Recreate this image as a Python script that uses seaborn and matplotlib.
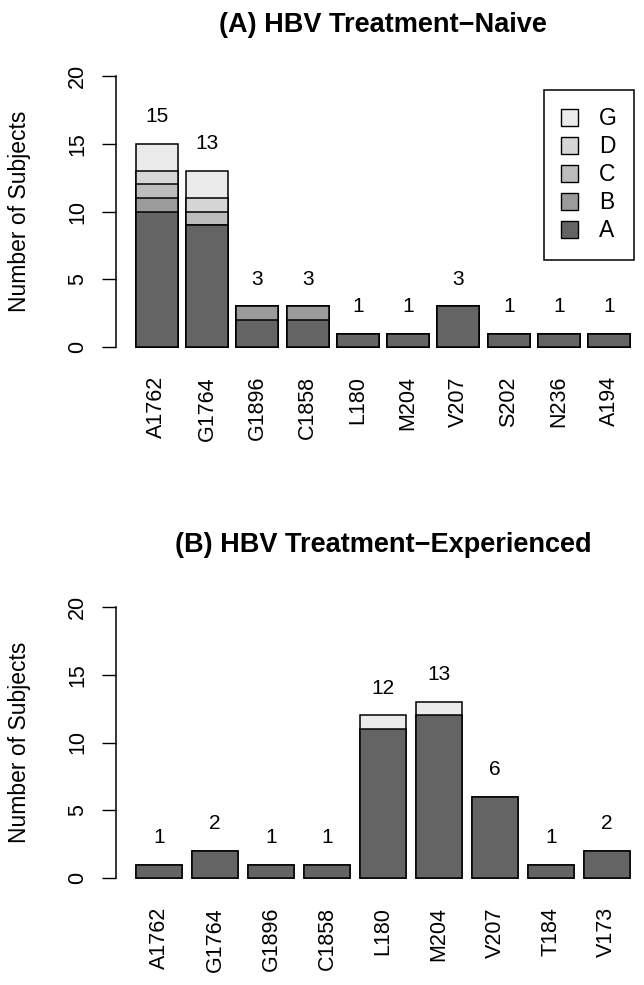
import numpy as np
import pandas as pd
import matplotlib
matplotlib.use('Agg')
import matplotlib.pyplot as plt
from matplotlib.patches import Patch
import seaborn as sns

# 데이터 (A) Treatment-Naive
labels_a = ['A1762', 'G1764', 'G1896', 'C1858', 'L180', 'M204', 'V207', 'S202', 'N236', 'A194']
naive_A = [10, 9, 2, 2, 1, 1, 3, 1, 1, 1]
naive_B = [1, 0, 1, 1, 0, 0, 0, 0, 0, 0]
naive_C = [1, 1, 0, 0, 0, 0, 0, 0, 0, 0]
naive_D = [1, 1, 0, 0, 0, 0, 0, 0, 0, 0]
naive_G = [2, 2, 0, 0, 0, 0, 0, 0, 0, 0]

# 데이터 (B) Treatment-Experienced
labels_b = ['A1762', 'G1764', 'G1896', 'C1858', 'L180', 'M204', 'V207', 'T184', 'V173']
exp_A = [1, 2, 1, 1, 11, 12, 6, 1, 2]
exp_G = [0, 0, 0, 0, 1, 1, 0, 0, 0]

genotypes = ['A', 'B', 'C', 'D', 'G']
colors = {'A': '#646464', 'B': '#9B9B9B', 'C': '#BDBDBD', 'D': '#D6D6D6', 'G': '#EBEBEB'}

sns.set_style('white')
plt.rcParams['font.family'] = ['Liberation Sans', 'DejaVu Sans']
# 글자색은 검정
for k in ['text.color', 'axes.labelcolor', 'xtick.color', 'ytick.color']:
    plt.rcParams[k] = 'black'

BAR_W = 1 / 1.2
FS_TICK = 15.5
FS_LAB = 16.5
FS_VAL = 15


def stacked_bars(ax, labels, layers, title, title_y):
    """layers: (genotype, values) 리스트, 아래에서 위 순서"""
    cum = np.cumsum([v for _, v in layers], axis=0)
    # 위 층부터 그려서 아래 층이 덮도록
    for i in range(len(layers) - 1, -1, -1):
        g = layers[i][0]
        df = pd.DataFrame({'site': labels, 'n': cum[i]})
        sns.barplot(data=df, x='site', y='n', color=colors[g], saturation=1,
                    width=BAR_W, edgecolor='black', linewidth=1.1, ax=ax)
    totals = cum[-1]
    for i, t in enumerate(totals):
        ax.text(i, t + 2, str(int(t)), ha='center', va='center', fontsize=FS_VAL)

    n = len(labels)
    pad = 0.04 * (n - 1 + BAR_W)
    ax.set_xlim(-BAR_W / 2 - pad, n - 1 + BAR_W / 2 + pad)
    ax.set_ylim(-0.8, 20.8)
    ax.set_yticks([0, 5, 10, 15, 20])
    ax.set_xlabel('')
    ax.set_ylabel('Number of Subjects', fontsize=FS_LAB)
    ax.yaxis.set_label_coords(-0.16, 0.5)
    ax.tick_params(axis='y', length=10, width=1, pad=10, labelsize=FS_TICK,
                   labelrotation=90, left=True, direction='out')
    for lab in ax.get_yticklabels():
        lab.set_va('center')
    ax.tick_params(axis='x', length=0, pad=13, labelsize=FS_TICK, labelrotation=90)
    for s in ['top', 'right', 'bottom']:
        ax.spines[s].set_visible(False)
    ax.spines['left'].set_bounds(0, 20)
    ax.spines['left'].set_linewidth(1.1)
    ax.spines['left'].set_color('black')
    ax.set_title(title, fontsize=19.5, fontweight='bold', y=title_y, pad=0)


fig = plt.figure(figsize=(6.44, 9.85), dpi=100)
ax1 = fig.add_axes([116 / 644, 1 - 358 / 985, 534 / 644, 293 / 985])
ax2 = fig.add_axes([116 / 644, 1 - 889 / 985, 534 / 644, 293 / 985])

stacked_bars(ax1, labels_a,
             [('A', naive_A), ('B', naive_B), ('C', naive_C), ('D', naive_D), ('G', naive_G)],
             '(A) HBV Treatment\u2212Naive', 1.113)
stacked_bars(ax2, labels_b, [('A', exp_A), ('G', exp_G)],
             '(B) HBV Treatment\u2212Experienced', 1.150)

# 범례 (G가 위)
handles = [Patch(facecolor=colors[g], edgecolor='black', linewidth=1.0) for g in genotypes[::-1]]
leg = ax1.legend(handles, genotypes[::-1], loc='upper right',
                 bbox_to_anchor=(634 / 644, 1 - 90 / 985), bbox_transform=fig.transFigure,
                 fontsize=FS_TICK + 1, frameon=True, fancybox=False, framealpha=1,
                 handlelength=0.75, handleheight=0.75, handletextpad=0.9,
                 labelspacing=0.22, borderpad=0.75, borderaxespad=0)
leg.get_frame().set_edgecolor('black')
leg.get_frame().set_linewidth(1.1)

plt.savefig('out.png', dpi=100)
plt.close()
